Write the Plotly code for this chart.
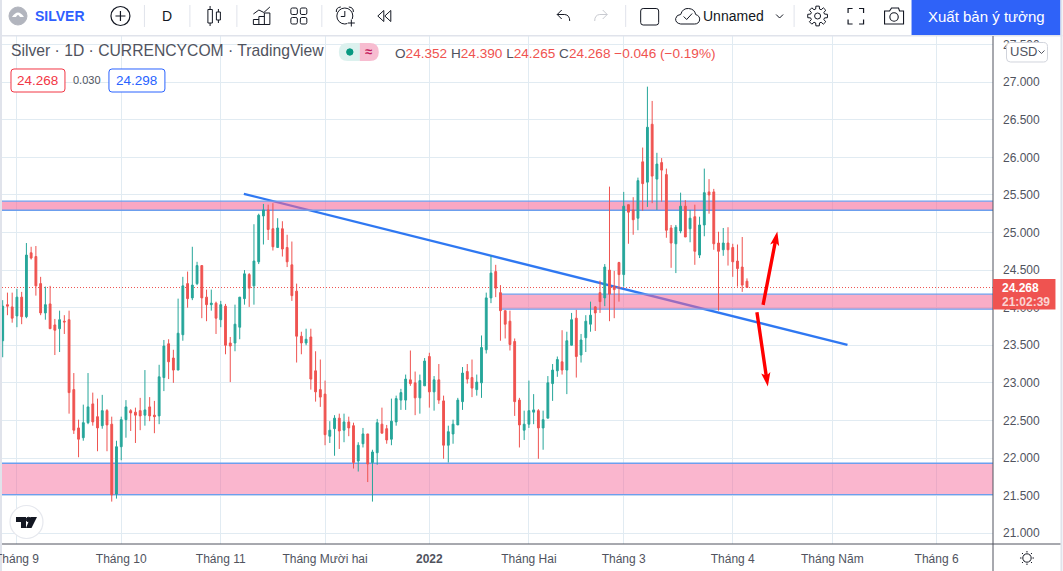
import math
import re
import plotly.graph_objects as go

# Daily OHLC values for Silver (CURRENCYCOM), oldest first
opens = [
    23.56, 24.04, 24.01, 23.89, 24.14, 23.88, 24.73, 24.68, 24.32, 23.93,
    24.05, 23.77, 23.72, 23.82, 23.84, 22.91, 22.40, 22.27, 22.47, 22.72,
    22.55, 22.43, 22.63, 22.45, 21.52, 22.15, 22.51, 22.63, 22.61, 22.63,
    22.57, 22.68, 22.57, 22.56, 23.07, 23.52, 23.33, 23.17, 23.64, 24.32,
    24.13, 24.32, 24.56, 24.14, 24.04, 24.06, 23.84, 24.02, 23.53, 23.53,
    23.74, 24.12, 24.44, 24.29, 24.61, 25.22, 25.30, 25.05, 24.80, 25.05,
    24.80, 24.57, 24.22, 23.62, 23.53, 23.61, 23.16, 22.91, 22.85, 22.29,
    22.39, 22.53, 22.37, 22.48, 22.43, 21.96, 22.19, 22.32, 21.94, 22.07,
    22.45, 22.39, 22.25, 22.48, 22.77, 22.77, 23.04, 23.00, 22.80, 22.96,
    23.35, 22.88, 23.04, 22.76, 22.17, 22.32, 22.44, 22.75, 23.15, 23.07,
    22.91, 23.00, 23.44, 24.13, 24.48, 24.20, 23.96, 23.82, 23.55, 22.77,
    22.37, 22.45, 22.61, 22.63, 22.40, 22.53, 22.99, 23.16, 23.28, 23.17,
    23.50, 23.86, 23.37, 23.60, 23.78, 24.01, 24.20, 24.13, 24.50, 24.28,
    24.60, 24.44, 25.37, 25.30, 25.19, 25.94, 25.67, 26.44, 25.71, 25.93,
    25.77, 25.06, 24.85, 25.02, 25.35, 25.05, 25.21, 24.70, 25.10, 25.54,
    25.54, 24.86, 24.77, 24.86, 24.80, 24.62, 24.54, 24.352,
]
highs = [
    24.10, 24.20, 24.20, 24.25, 24.21, 24.86, 24.81, 24.82, 24.41, 24.28,
    24.29, 23.85, 23.96, 23.90, 23.96, 23.13, 22.51, 22.71, 23.13, 22.87,
    22.79, 22.84, 22.65, 22.55, 22.23, 22.55, 22.77, 22.65, 22.67, 22.80,
    23.17, 22.81, 22.76, 23.24, 23.57, 23.58, 23.44, 24.12, 24.41, 24.48,
    24.81, 24.61, 24.56, 24.24, 24.24, 24.08, 24.09, 24.05, 23.61, 24.04,
    24.14, 24.50, 24.46, 25.11, 25.25, 25.38, 25.37, 25.39, 25.19, 25.15,
    24.97, 24.88, 24.32, 23.68, 23.72, 23.72, 23.42, 23.31, 23.03, 22.49,
    22.57, 22.59, 22.59, 22.55, 22.47, 22.21, 22.40, 22.32, 22.11, 22.52,
    22.67, 22.44, 22.79, 22.83, 22.92, 23.11, 23.43, 23.15, 23.11, 23.33,
    23.40, 23.09, 23.25, 22.83, 22.43, 22.51, 22.80, 23.21, 23.25, 23.31,
    23.11, 23.63, 24.20, 24.69, 24.57, 24.30, 23.96, 23.96, 23.59, 22.80,
    22.63, 23.03, 22.85, 22.65, 22.63, 23.09, 23.25, 23.35, 23.70, 23.68,
    23.93, 23.97, 23.65, 23.90, 24.08, 24.02, 24.36, 24.58, 25.61, 24.49,
    24.61, 25.54, 25.37, 25.47, 25.73, 26.13, 26.94, 26.75, 26.06, 25.99,
    25.85, 25.10, 25.10, 25.53, 25.43, 25.30, 25.37, 25.21, 25.85, 25.71,
    25.58, 25.01, 25.06, 25.07, 24.85, 24.84, 24.94, 24.390,
]
lows = [
    23.34, 23.90, 23.80, 23.74, 23.78, 23.86, 24.64, 24.16, 23.90, 23.84,
    23.72, 23.37, 23.41, 23.65, 22.59, 22.32, 22.01, 22.23, 22.45, 22.43,
    22.09, 22.39, 22.09, 21.42, 21.46, 21.97, 22.27, 22.36, 22.20, 22.37,
    22.43, 22.49, 22.33, 22.45, 22.89, 23.05, 23.00, 23.17, 23.56, 24.00,
    24.10, 24.30, 23.86, 23.82, 23.96, 23.65, 23.74, 23.38, 23.01, 23.42,
    23.58, 24.04, 24.01, 24.04, 24.58, 24.84, 24.90, 24.76, 24.80, 24.68,
    24.54, 24.09, 23.27, 23.38, 23.50, 22.91, 22.75, 22.68, 22.17, 22.20,
    22.03, 22.12, 22.21, 22.29, 21.86, 21.82, 22.14, 21.68, 21.42, 21.91,
    22.33, 22.19, 22.17, 22.43, 22.64, 22.64, 22.96, 22.57, 22.59, 22.96,
    22.67, 22.63, 22.72, 21.99, 21.94, 22.19, 22.44, 22.64, 22.99, 22.81,
    22.83, 22.80, 23.39, 24.06, 24.14, 23.56, 23.59, 23.43, 22.56, 22.14,
    22.24, 22.40, 22.45, 21.99, 22.11, 22.53, 22.76, 23.08, 23.11, 22.85,
    23.50, 23.07, 23.27, 23.41, 23.68, 23.69, 23.93, 24.02, 23.82, 23.86,
    24.08, 24.28, 24.85, 24.97, 25.03, 25.29, 25.34, 25.39, 25.30, 25.41,
    24.93, 24.53, 24.46, 24.99, 24.94, 24.87, 24.57, 24.66, 24.95, 25.25,
    24.77, 23.96, 24.69, 24.56, 24.41, 24.28, 24.21, 24.265,
]
closes = [
    24.02, 24.02, 23.86, 24.14, 23.88, 24.70, 24.66, 24.29, 23.93, 24.04,
    23.72, 23.70, 23.84, 23.81, 22.87, 22.37, 22.25, 22.47, 22.68, 22.48,
    22.40, 22.63, 22.44, 21.51, 22.15, 22.51, 22.68, 22.60, 22.57, 22.56,
    22.64, 22.56, 22.55, 23.08, 23.49, 23.28, 23.17, 23.66, 24.29, 24.12,
    24.30, 24.56, 24.13, 24.04, 24.06, 23.86, 24.04, 23.50, 23.49, 23.78,
    24.14, 24.45, 24.26, 24.62, 25.23, 25.30, 25.04, 24.81, 25.06, 24.78,
    24.61, 24.16, 23.62, 23.53, 23.58, 23.05, 22.88, 22.81, 22.31, 22.37,
    22.53, 22.36, 22.48, 22.40, 21.94, 22.17, 22.32, 21.92, 22.08, 22.47,
    22.33, 22.24, 22.49, 22.79, 22.87, 23.05, 22.99, 22.80, 23.03, 23.29,
    22.88, 23.04, 22.77, 22.17, 22.35, 22.45, 22.77, 23.13, 23.05, 22.93,
    23.01, 23.47, 24.13, 24.46, 24.26, 23.96, 23.78, 23.51, 22.75, 22.44,
    22.45, 22.63, 22.64, 22.40, 22.51, 23.00, 23.17, 23.31, 23.17, 23.56,
    23.84, 23.35, 23.57, 23.82, 23.90, 23.93, 24.08, 24.54, 24.18, 24.24,
    24.44, 25.35, 25.27, 25.17, 25.69, 25.65, 26.40, 25.75, 25.91, 25.83,
    25.03, 24.86, 25.07, 25.35, 24.94, 25.19, 24.75, 25.10, 25.53, 25.50,
    24.85, 24.75, 24.86, 24.77, 24.61, 24.52, 24.30, 24.268,
]
bar_index = list(range(len(opens)))

# Time axis: bar number of each month start, and its label
month_bars = [3, 25, 46, 68, 90, 111, 131, 154, 175, 197]
month_labels = ["Tháng 9", "Tháng 10", "Tháng 11", "Tháng Mười hai", "<b>2022</b>",
                "Tháng Hai", "Tháng 3", "Tháng 4", "Tháng Năm", "Tháng 6"]

# Price axis
price_ticks = [21.0, 21.5, 22.0, 22.5, 23.0, 23.5, 24.0, 24.5, 25.0, 25.5, 26.0, 26.5, 27.0, 27.5]
last_price = 24.268

# Supply and demand zones: (upper price, lower price, first bar, fill)
zones = [
    (25.416, 25.296, None, "rgba(244,100,150,0.57)"),
    (24.179, 23.980, 104.85, "rgba(244,100,150,0.53)"),
    (21.930, 21.514, None, "rgba(244,100,150,0.47)"),
]
# Trend line: (bar, price) at each end
trend_start = (50.87, 25.514)
trend_end = (178.2, 23.505)
# Hand-drawn arrows: (tail bar, tail price, tip bar, tip price)
arrows = [
    (160.4, 24.037, 163.4, 25.013),
    (159.1, 23.94, 161.4, 22.95),
]

WIDTH, HEIGHT = 1063, 571
LEFT, RIGHT, TOP, BOTTOM = 2, 993.5, 36, 544
X_RANGE = [-0.148, 208.9]
Y_RANGE = [20.856, 27.614]

RED = "#ef5350"
GREEN = "#26a69a"
INK = "#131722"
GREY = "#50535e"
BLUE = "#2962ff"
GRID = "#e1ebf2"
RULE = "#e0e3eb"
ZONE_EDGE = "#6c9fee"
FONT = "Liberation Sans, Arial, sans-serif"


def px(x):
    return (x - LEFT) / (RIGHT - LEFT)


def py(y):
    return 1 - (y - TOP) / (BOTTOM - TOP)


def bar_to_page(bar):
    return LEFT + (bar - X_RANGE[0]) / (X_RANGE[1] - X_RANGE[0]) * (RIGHT - LEFT)


def price_to_page(price):
    return TOP + (Y_RANGE[1] - price) / (Y_RANGE[1] - Y_RANGE[0]) * (BOTTOM - TOP)


def path(d):
    """Convert an SVG path written in page pixels to paper coordinates."""
    tokens = re.findall(r"[MLQCZ]|-?\d+\.?\d*", d)
    out, is_x = [], True
    for t in tokens:
        if t.isalpha():
            out.append(t)
        else:
            v = float(t)
            out.append(f"{px(v):.5f}" if is_x else f"{py(v):.5f}")
            is_x = not is_x
    return " ".join(out)


shapes = []
annotations = []


def stroke(d, color=INK, width=1, fill=None):
    s = dict(type="path", xref="paper", yref="paper", path=path(d), layer="above",
             line=dict(color=color, width=width))
    if fill:
        s["fillcolor"] = fill
    shapes.append(s)


def block(d, fill):
    shapes.append(dict(type="path", xref="paper", yref="paper", path=path(d), layer="above",
                       line=dict(width=0), fillcolor=fill))


def rect(x0, y0, x1, y1, fill):
    shapes.append(dict(type="rect", xref="paper", yref="paper", layer="above",
                       x0=px(x0), x1=px(x1), y0=py(y1), y1=py(y0),
                       fillcolor=fill, line=dict(width=0)))


def rounded(x0, y0, x1, y1, r):
    return (f"M {x0+r} {y0} L {x1-r} {y0} Q {x1} {y0} {x1} {y0+r} L {x1} {y1-r} "
            f"Q {x1} {y1} {x1-r} {y1} L {x0+r} {y1} Q {x0} {y1} {x0} {y1-r} "
            f"L {x0} {y0+r} Q {x0} {y0} {x0+r} {y0} Z")


def circle(cx, cy, r, color=INK, width=1, fill=None):
    s = dict(type="circle", xref="paper", yref="paper", layer="above",
             x0=px(cx - r), x1=px(cx + r), y0=py(cy + r), y1=py(cy - r),
             line=dict(color=color, width=width))
    if fill:
        s["fillcolor"] = fill
    shapes.append(s)


def label(x, y, text, size=13, color=INK, anchor="left"):
    annotations.append(dict(xref="paper", yref="paper", x=px(x), y=py(y), text=text,
                            showarrow=False, xanchor=anchor, yanchor="middle",
                            borderpad=0, borderwidth=0,
                            font=dict(family=FONT, size=size, color=color)))


def arrow_outline(tail_bar, tail_price, tip_bar, tip_price, shaft=3.4, head_len=14, head_half=4.6):
    """Outline of a straight arrow, worked out from its two price-scale ends."""
    x0, y0 = bar_to_page(tail_bar), price_to_page(tail_price)
    x1, y1 = bar_to_page(tip_bar), price_to_page(tip_price)
    length = math.hypot(x1 - x0, y1 - y0)
    ux, uy = (x1 - x0) / length, (y1 - y0) / length
    nx, ny = -uy, ux
    neck_x, neck_y = x1 - ux * head_len, y1 - uy * head_len
    notch_x, notch_y = neck_x + ux * 2, neck_y + uy * 2
    s = shaft / 2
    pts = [
        (x0 + nx * s, y0 + ny * s),
        (notch_x + nx * s, notch_y + ny * s),
        (neck_x + nx * head_half, neck_y + ny * head_half),
        (x1, y1),
        (neck_x - nx * head_half, neck_y - ny * head_half),
        (notch_x - nx * s, notch_y - ny * s),
        (x0 - nx * s, y0 - ny * s),
    ]
    return "M " + " L ".join(f"{a:.2f} {b:.2f}" for a, b in pts) + " Z"


# Chart-space overlays, kept under the candles: trend line first so the zones tint it
overlay = [dict(type="line", xref="x", yref="y", layer="between",
                x0=trend_start[0], y0=trend_start[1], x1=trend_end[0], y1=trend_end[1],
                line=dict(color="#2f78f2", width=2.3))]
for upper, lower, first, fill in zones:
    start = X_RANGE[0] if first is None else first
    overlay.append(dict(type="rect", xref="x", yref="y", layer="between",
                        x0=start, x1=X_RANGE[1], y0=lower, y1=upper,
                        fillcolor=fill, line=dict(width=0)))
    for level in (upper, lower):
        overlay.append(dict(type="line", xref="x", yref="y", layer="between",
                            x0=start, x1=X_RANGE[1], y0=level, y1=level,
                            line=dict(color=ZONE_EDGE, width=1.3)))
overlay.append(dict(type="line", xref="x", yref="y", layer="between",
                    x0=X_RANGE[0], x1=X_RANGE[1], y0=last_price, y1=last_price,
                    line=dict(color=RED, width=1, dash="1px,2px")))
shapes.extend(overlay)

for spec in arrows:
    block(arrow_outline(*spec), "#ff0000")

# Top toolbar
rect(0, 0, WIDTH, 35, "#ffffff")
rect(0, 35, WIDTH, 36.5, RULE)
circle(18, 16, 9, color="#b2b5be", fill="#b2b5be")
block("M 12 17 Q 18 8 24 17 L 20 17 Q 18 13 16 17 Z", "#ffffff")
label(35, 16, "<b>SILVER</b>", 14, "#2f5fff")

circle(120.5, 16, 9.5, width=1.2)
stroke("M 120.5 11 L 120.5 21 M 115.5 16 L 125.5 16", width=1.2)
for sep in (144.5, 190, 237, 322, 626, 794.5):
    stroke(f"M {sep} 5 L {sep} 27", color=RULE, width=1)
label(167.5, 16, "D", 14, INK, "center")

stroke("M 208 9.5 L 212.5 9.5 L 212.5 23 L 208 23 Z M 210.2 6 L 210.2 9.5 M 210.2 23 L 210.2 26")
stroke("M 216.5 12 L 220.5 12 L 220.5 20 L 216.5 20 Z M 218.5 9 L 218.5 12 M 218.5 20 L 218.5 23")

stroke("M 253.5 24.5 L 270 24.5 L 270 13 L 264.5 13 L 264.5 24.5 M 264.5 16.5 L 259 16.5 "
       "L 259 24.5 M 259 19.5 L 253.5 19.5 L 253.5 24.5")
stroke("M 253.5 14 L 259 10 L 264 12.5 L 270 7")

for gx, gy in ((291, 8), (300.5, 8), (291, 17.5), (300.5, 17.5)):
    stroke(rounded(gx, gy, gx + 6.5, gy + 6.5, 1.5))

circle(345, 16, 8)
stroke("M 345 11 L 345 16.5 L 341 16.5")
stroke("M 336.5 12 Q 336 7.5 341 7 M 349 7 Q 354 7.5 353.5 12")
rect(347.5, 19, 356, 27, "#ffffff")
stroke("M 351.5 19.5 L 351.5 26.5 M 348 23 L 355 23")

stroke("M 384 10.5 L 378 16 L 384 21.5 Z M 391 10.5 L 385 16 L 391 21.5 Z")

stroke("M 562 10 L 557.5 14.5 L 562 19 M 557.5 14.5 L 565 14.5 Q 570 15 570 21")
stroke("M 603 10 L 607.5 14.5 L 603 19 M 607.5 14.5 L 600 14.5 Q 595 15 595 21", color="#c8cad0")

stroke(rounded(641, 8.5, 659, 25, 2.5))
stroke("M 681 24 Q 675.5 23 676 18.5 Q 677 14.5 681 14.5 Q 683 8 689 8.5 Q 695 9 696 14.5 "
       "Q 700.5 16 700 20 Q 699 24 695 24 Z")
stroke("M 684 16.5 L 687 19.5 L 692.5 13.5")
label(703.5, 16, "Unnamed", 14, INK)
stroke("M 776.5 14.5 L 780 18 L 783.5 14.5", width=1)

teeth = []
for k in range(8):
    a = k * math.pi / 4
    for off, rad in ((-0.27, 7.2), (-0.17, 10), (0.17, 10), (0.27, 7.2)):
        teeth.append((818 + rad * math.cos(a + off), 16 + rad * math.sin(a + off)))
stroke("M " + " L ".join(f"{x:.2f} {y:.2f}" for x, y in teeth) + " Z")
circle(818, 16, 3)

stroke("M 848.5 13 L 848.5 8.5 L 853 8.5 M 859.5 8.5 L 864 8.5 L 864 13 "
       "M 864 19.5 L 864 24 L 859.5 24 M 853 24 L 848.5 24 L 848.5 19.5", width=1.2)

stroke("M 886 11 L 890 11 L 892 8 L 899 8 L 900 11 L 904 11 L 904 24 L 885 24 L 885 11 Z", width=1.1)
circle(894.5, 17, 4.2, width=1.1)

rect(912, 0, 1061, 35, "#2f62f8")
label(987, 16.5, "Xuất bản ý tưởng", 15, "#ffffff", "center")

# Frame around the pane
rect(0, 0, 2, HEIGHT, RULE)
rect(1061, 0, WIDTH, HEIGHT, RULE)
stroke(f"M {RIGHT} 36 L {RIGHT} {HEIGHT}", color=GREY, width=1)
stroke(f"M 2 {BOTTOM} L 1061 {BOTTOM}", color=GREY, width=1)

# The first month label runs off the left edge of the time scale
label(bar_to_page(month_bars[0]), 558.5, month_labels[0], 12, GREY, "center")

# Legend rows in the pane
label(11, 51, "Silver · 1D · CURRENCYCOM · TradingView", 15.7, GREY)
block("M 348 43 L 360 43 L 360 61 L 348 61 Q 339 61 339 52 Q 339 43 348 43 Z", "#dcf1ee")
block("M 360 43 L 370 43 Q 379 43 379 52 Q 379 61 370 61 L 360 61 Z", "#f7bcd0")
circle(350, 52, 3.2, color="#089981", fill="#089981")
label(369, 52, "<b>≈</b>", 13, "#c2185b", "center")
annotations.append(dict(
    xref="paper", yref="paper", x=px(395), y=py(53), showarrow=False,
    xanchor="left", yanchor="middle", borderpad=0, borderwidth=0,
    font=dict(family=FONT, size=13.6, color=RED),
    text=(f"<span style='color:{GREY}'>O</span>24.352 <span style='color:{GREY}'>H</span>24.390 "
          f"<span style='color:{GREY}'>L</span>24.265 <span style='color:{GREY}'>C</span>24.268 "
          "−0.046 (−0.19%)"),
))
stroke(rounded(11, 69, 65, 92, 3), color="#f23645", width=1, fill="#ffffff")
label(38, 80.5, "24.268", 13.5, "#f23645", "center")
label(87, 80.5, "0.030", 11, GREY, "center")
stroke(rounded(109, 69, 165, 92, 3), color=BLUE, width=1, fill="#ffffff")
label(137, 80.5, "24.298", 13.5, BLUE, "center")

# Currency button and last-price tag on the price scale
stroke(rounded(1007, 42.5, 1048, 62, 4), color="#d1d4dc", width=1, fill="#ffffff")
label(1011, 52, "USD", 13, GREY)
stroke("M 1039 50.5 L 1042 53.5 L 1045 50.5", color=GREY, width=1)
rect(RIGHT, 279, 1056, 309.5, RED)
label(1003, 287.5, "<b>24.268</b>", 12, "#ffffff")
label(1003, 302, "<b>21:02:39</b>", 12, "rgba(255,255,255,0.75)")

# Chart watermark badge
circle(26.5, 522, 16.5, color="#e6e8ee", width=1.2, fill="#ffffff")
block("M 16 517 L 26 517 L 26 528 L 21 528 L 21 522 L 16 522 Z", INK)
block("M 30.5 517 L 37 517 L 31.5 528 L 26 528 Z", INK)
circle(28.5, 519.5, 2.2, color=INK, fill=INK)

# Settings button in the corner of the scales
circle(1027.5, 558, 4.2, width=1)
stroke("M 1027.5 551 L 1027.5 552.5 M 1027.5 563.5 L 1027.5 565 M 1020.5 558 L 1022 558 "
       "M 1033 558 L 1034.5 558 M 1022.5 553 L 1023.6 554.1 M 1031.4 561.9 L 1032.5 563 "
       "M 1032.5 553 L 1031.4 554.1 M 1023.6 561.9 L 1022.5 563", width=1)

fig = go.Figure(go.Candlestick(
    x=bar_index, open=opens, high=highs, low=lows, close=closes,
    increasing=dict(line=dict(color=GREEN, width=1), fillcolor=GREEN),
    decreasing=dict(line=dict(color=RED, width=1), fillcolor=RED),
    whiskerwidth=0, hoverinfo="skip",
))
fig.update_layout(
    width=WIDTH, height=HEIGHT, autosize=False, showlegend=False,
    paper_bgcolor="#ffffff", plot_bgcolor="#ffffff",
    margin=dict(l=LEFT, r=WIDTH - RIGHT, t=TOP, b=HEIGHT - BOTTOM, pad=0),
    boxgap=0.45, dragmode=False, shapes=shapes, annotations=annotations,
    font=dict(family=FONT, color=GREY, size=12),
    xaxis=dict(range=X_RANGE, tickmode="array", tickvals=month_bars,
               ticktext=[""] + month_labels[1:],
               showgrid=True, gridcolor=GRID, gridwidth=1.2, zeroline=False, showline=False,
               ticks="", ticklabelstandoff=6, rangeslider=dict(visible=False),
               tickangle=0, tickfont=dict(family=FONT, size=12, color=GREY)),
    yaxis=dict(range=Y_RANGE, side="right", tickmode="array", tickvals=price_ticks,
               tickformat=".3f", showgrid=True, gridcolor=GRID, gridwidth=1.2, zeroline=False,
               showline=False, ticks="", ticklabelstandoff=9,
               tickfont=dict(family=FONT, size=12, color=GREY)),
)

fig.write_html("out.html", config={"displayModeBar": False})
